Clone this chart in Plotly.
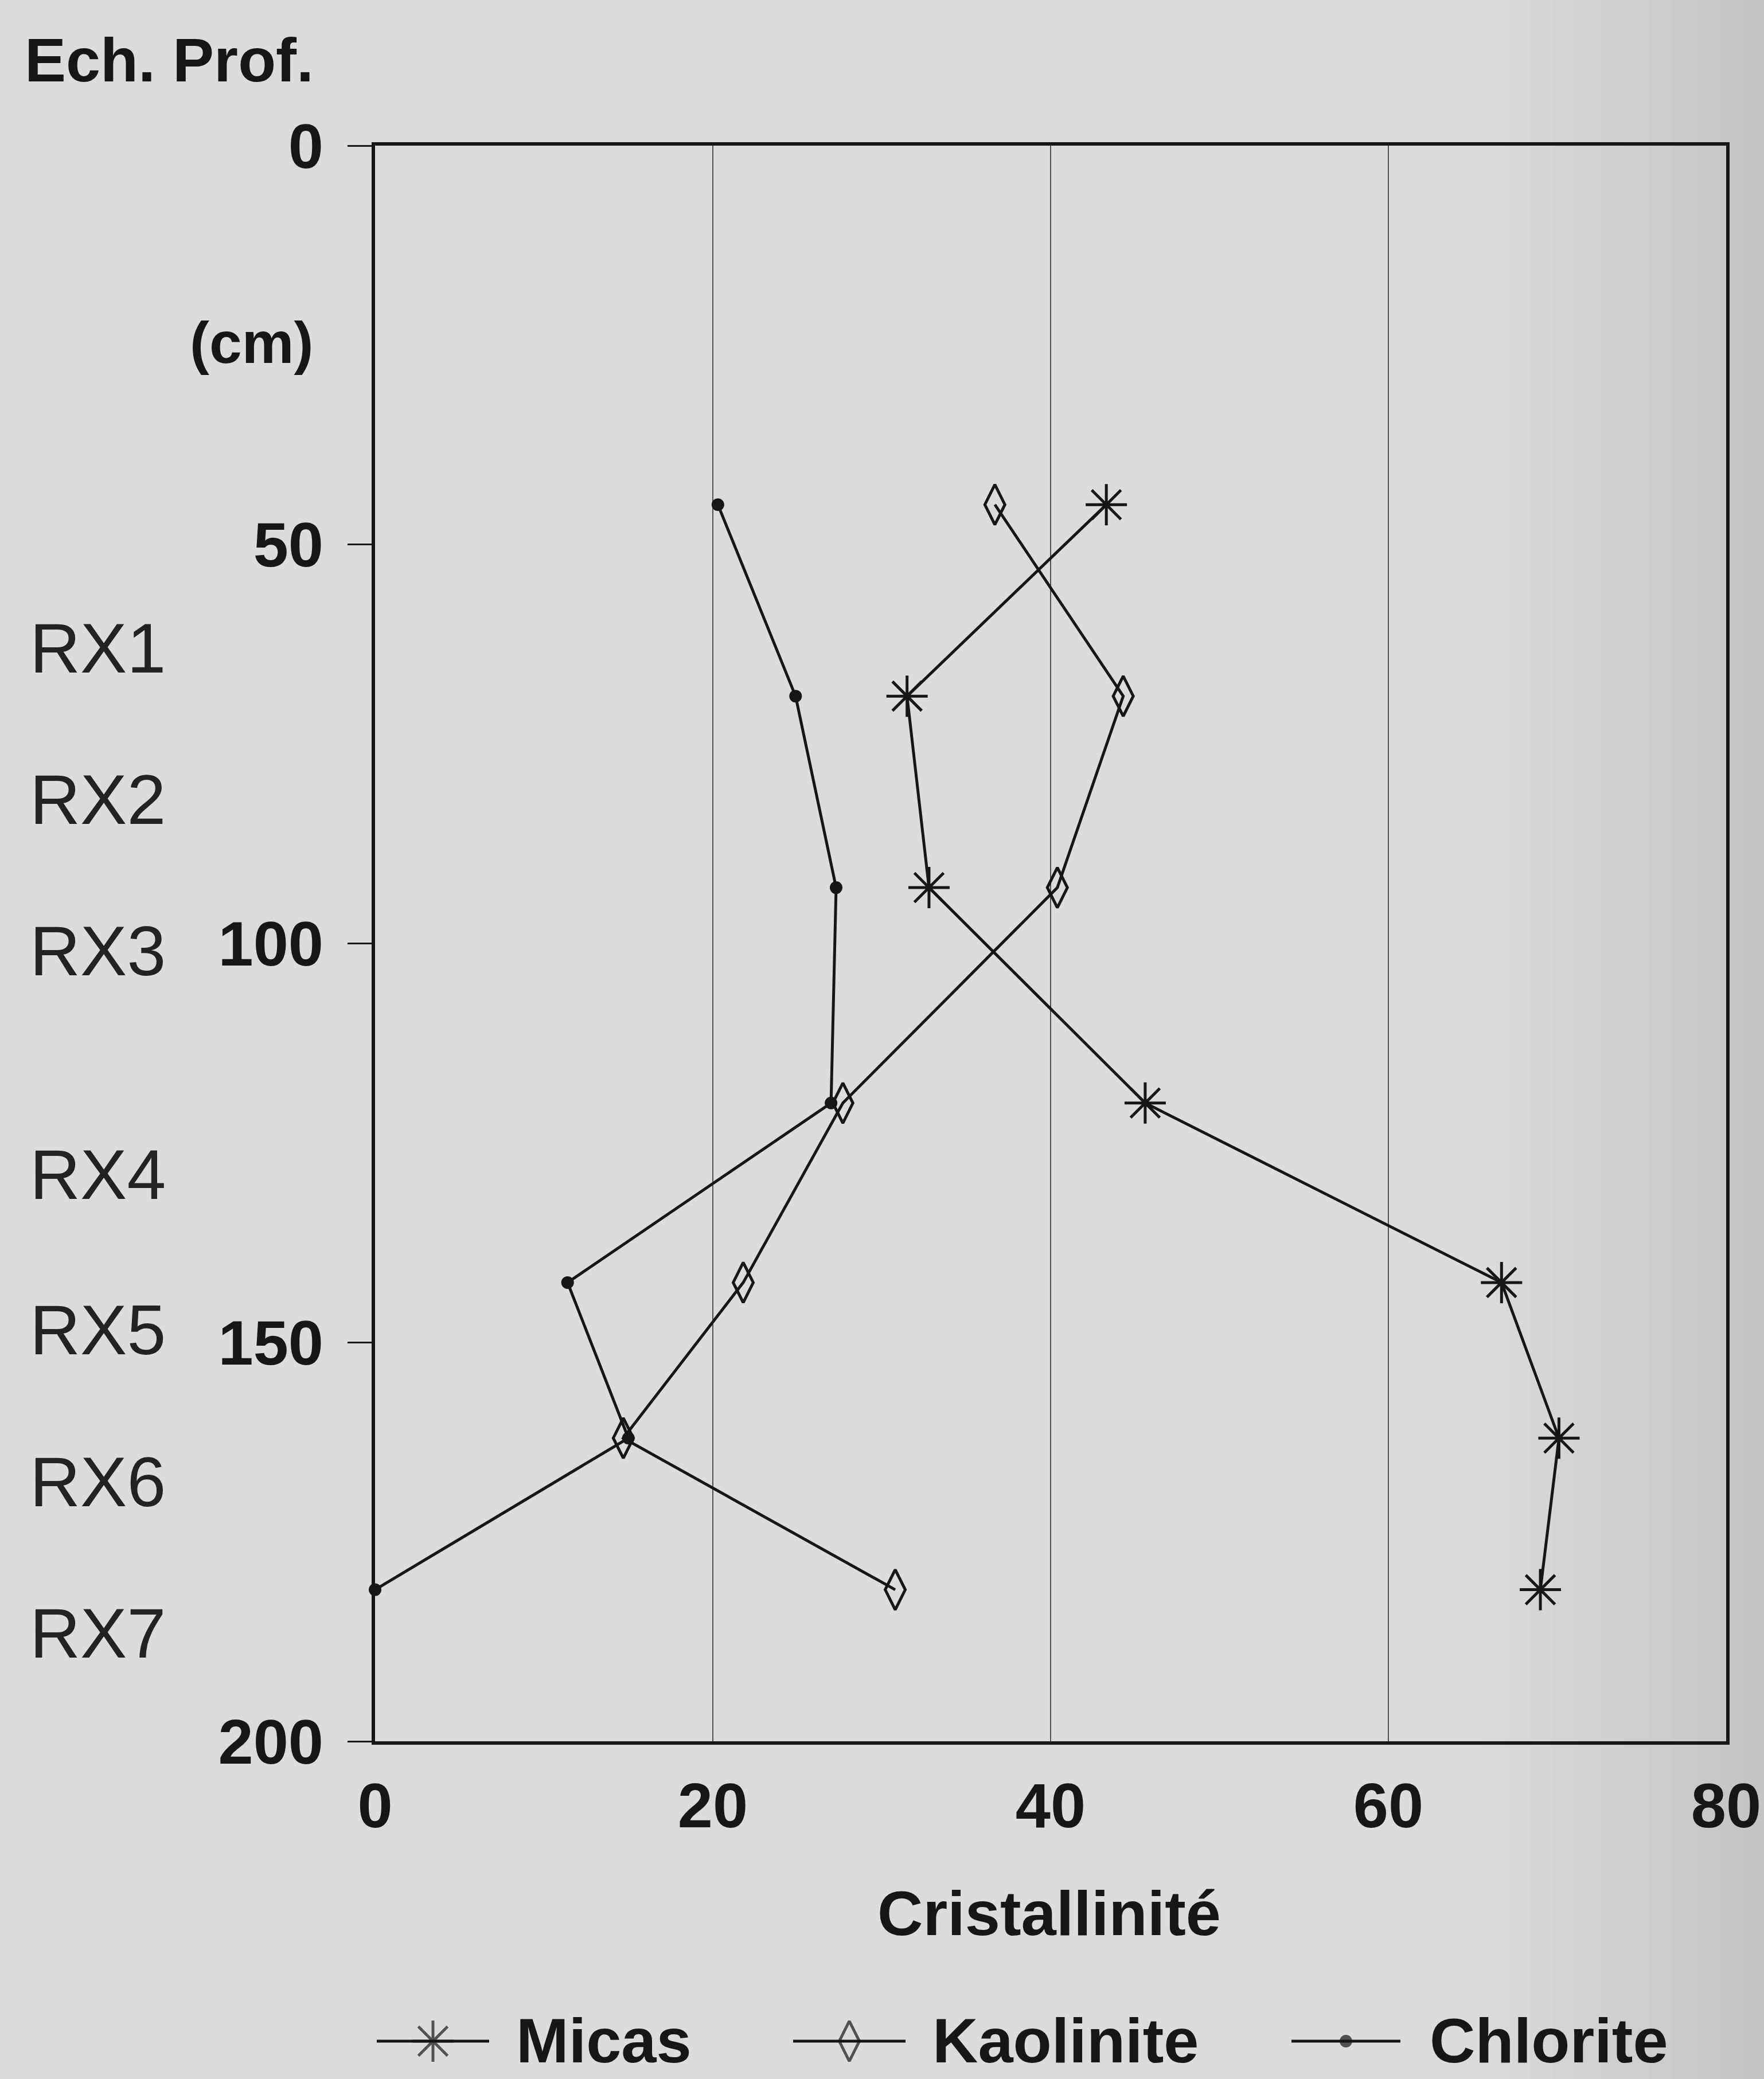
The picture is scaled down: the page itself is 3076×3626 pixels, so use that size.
import plotly.graph_objects as go

# Sample depths (cm) and crystallinity values per clay mineral
depth = [45, 69, 93, 120, 142.5, 162, 181]
micas = [43.3, 31.5, 32.8, 45.6, 66.7, 70.1, 69.0]
kaolinite = [36.7, 44.3, 40.4, 27.7, 21.8, 14.7, 30.8]
chlorite = [20.3, 24.9, 27.3, 27.0, 11.4, 15.0, 0.0]

series_names = ["Micas", "Kaolinite", "Chlorite"]
sample_names = ["RX1", "RX2", "RX3", "RX4", "RX5", "RX6", "RX7"]
sample_label_depth = [63, 82, 101, 129, 148.5, 167.5, 186.5]

x_ticks = [0, 20, 40, 60, 80]
y_ticks = [0, 50, 100, 150, 200]

W, H = 3076, 3626
FONT = "Liberation Sans, Arial, Helvetica, sans-serif"
INK = "#161616"
BG = "#dcdcdc"


def px(x):
    return x / W


def py(y):
    return 1 - y / H


styles = {
    "Micas": dict(symbol="asterisk-open", size=60, line=dict(width=5, color=INK)),
    "Kaolinite": dict(symbol="diamond-tall-open", size=50, line=dict(width=5, color=INK)),
    "Chlorite": dict(symbol="circle", size=22, color=INK, line=dict(width=0)),
}
values = {"Micas": micas, "Kaolinite": kaolinite, "Chlorite": chlorite}

fig = go.Figure()

for name in series_names:
    m = dict(styles[name])
    if "color" not in m:
        m["color"] = INK
    fig.add_trace(go.Scatter(
        x=values[name], y=depth, mode="lines+markers", name=name,
        line=dict(color=INK, width=5), marker=m, cliponaxis=False,
        showlegend=False, xaxis="x", yaxis="y",
    ))

# Legend drawn on an auxiliary full-page axis pair so the samples keep full size
legend_y = py(3560)
legend_segments = {"Micas": (657, 853), "Kaolinite": (1383, 1579), "Chlorite": (2252, 2442)}
legend_text_x = {"Micas": 898, "Kaolinite": 1624, "Chlorite": 2491}
for name in series_names:
    x0, x1 = legend_segments[name]
    m = dict(styles[name])
    base_size = m["size"]
    m["size"] = [0, base_size, 0]
    if "color" not in m:
        m["color"] = INK
    fig.add_trace(go.Scatter(
        x=[px(x0), px((x0 + x1) / 2), px(x1)], y=[legend_y] * 3,
        mode="lines+markers", line=dict(color=INK, width=5), marker=m,
        showlegend=False, xaxis="x2", yaxis="y2", cliponaxis=False, hoverinfo="skip",
    ))

annotations = []
for name in series_names:
    annotations.append(dict(
        text=name, x=px(legend_text_x[name]), y=py(3558), xref="paper", yref="paper",
        xanchor="left", yanchor="middle", showarrow=False,
        font=dict(family=FONT, size=110, color=INK, weight="bold"),
    ))

for lab, d in zip(sample_names, sample_label_depth):
    annotations.append(dict(
        text=lab, x=px(170), y=d, xref="paper", yref="y",
        xanchor="center", yanchor="middle", showarrow=False,
        font=dict(family=FONT, size=122, color="#222222"),
    ))

annotations += [
    dict(text="Ech. Prof.", x=px(41), y=py(104), xref="paper", yref="paper",
         xanchor="left", yanchor="middle", showarrow=False,
         font=dict(family=FONT, size=108, color=INK, weight="bold")),
    dict(text="(cm)", x=px(548), y=py(598), xref="paper", yref="paper",
         xanchor="right", yanchor="middle", showarrow=False,
         font=dict(family=FONT, size=102, color=INK, weight="bold")),
    dict(text="Cristallinité", x=px(1829), y=py(3336), xref="paper", yref="paper",
         xanchor="center", yanchor="middle", showarrow=False,
         font=dict(family=FONT, size=110, color=INK, weight="bold")),
]

# Gentle darkening toward the right edge of the page
shapes = []
for i in range(12):
    x0 = 0.84 + i * 0.0135
    shapes.append(dict(type="rect", xref="paper", yref="paper", x0=x0, x1=1, y0=0, y1=1,
                       fillcolor="rgba(0,0,0,0.009)", line=dict(width=0), layer="below"))

fig.update_layout(
    template="none",
    width=W, height=H,
    margin=dict(l=0, r=0, t=0, b=0, pad=0, autoexpand=False),
    paper_bgcolor=BG, plot_bgcolor="rgba(0,0,0,0)",
    showlegend=False,
    annotations=annotations, shapes=shapes,
    xaxis=dict(
        domain=[px(654), px(3010)], range=[0, 80], tickvals=x_ticks,
        showgrid=True, gridcolor="#505050", gridwidth=2,
        showline=True, linecolor=INK, linewidth=6, mirror=True,
        ticks="", ticklabelstandoff=12, zeroline=False, automargin=False,
        tickfont=dict(family=FONT, size=110, color=INK, weight="bold"),
    ),
    yaxis=dict(
        domain=[py(3037), py(254)], range=[200, 0], tickvals=y_ticks,
        showgrid=False, showline=True, linecolor=INK, linewidth=6, mirror=True,
        ticks="outside", ticklen=42, tickwidth=3, tickcolor=INK,
        ticklabelstandoff=20, zeroline=False, automargin=False,
        tickfont=dict(family=FONT, size=110, color=INK, weight="bold"),
    ),
    xaxis2=dict(domain=[0, 1], range=[0, 1], anchor="y2", visible=False,
                fixedrange=True, automargin=False),
    yaxis2=dict(domain=[0, 1], range=[0, 1], anchor="x2", visible=False,
                fixedrange=True, automargin=False),
)

fig.write_html("out.html")
